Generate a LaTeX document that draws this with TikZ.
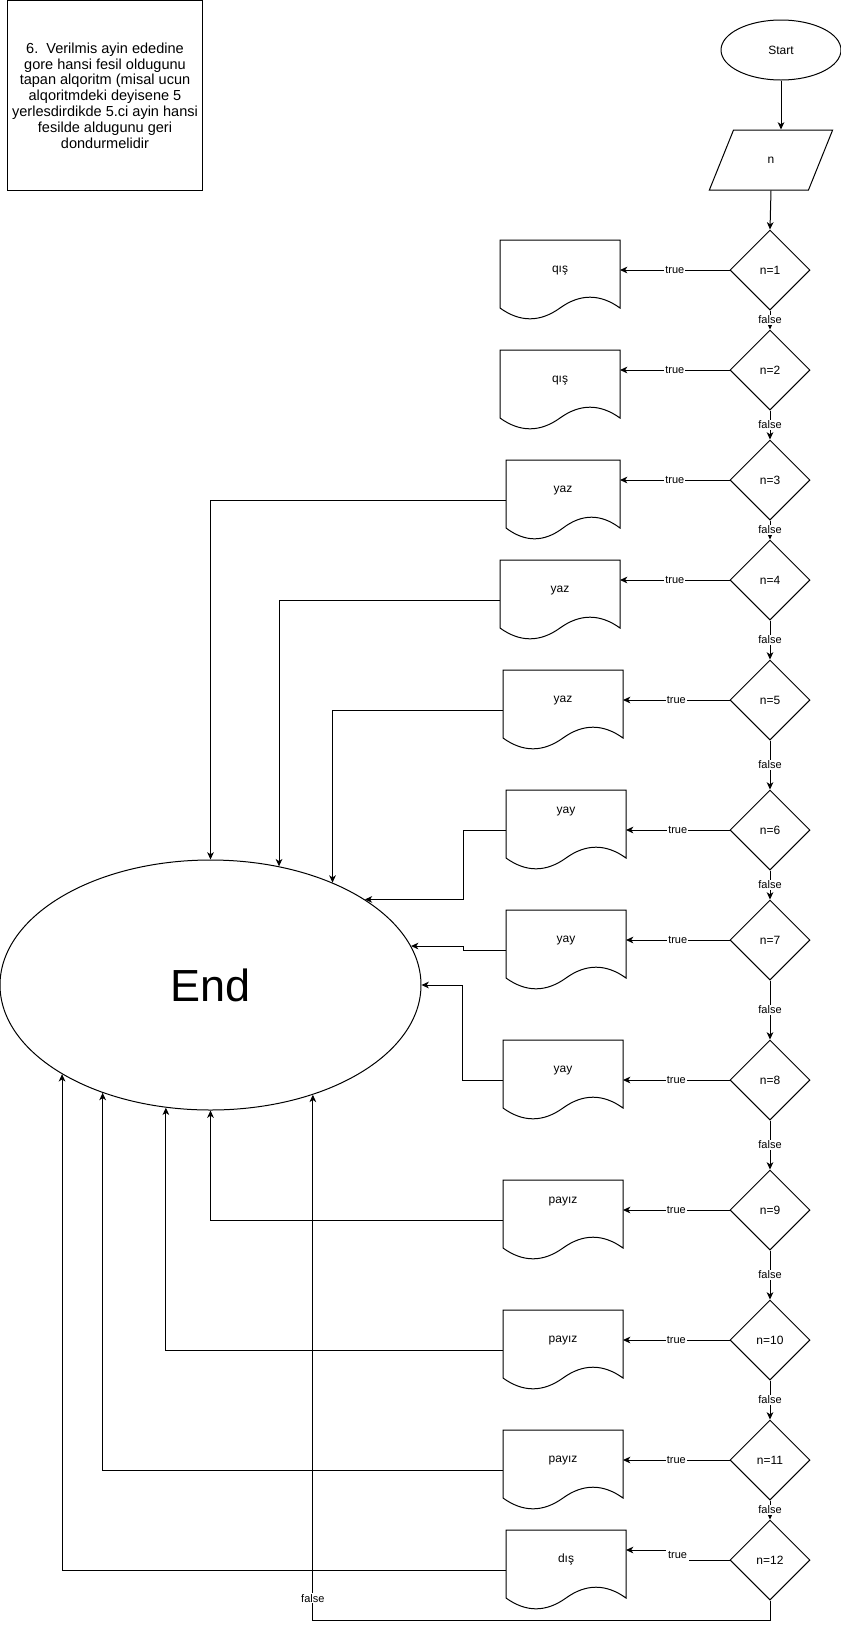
\documentclass[tikz,border=0pt]{standalone}
\usepackage{fontspec}
\setmainfont{Liberation Sans}
\usetikzlibrary{shapes.geometric,arrows.meta,calc}

\tikzset{every picture/.style={line width=0.75pt}}
\tikzset{
  arr/.style={-{Stealth[length=5.5pt,width=5pt,inset=1.6pt]}},
  lbl/.style={fill=white,inner sep=0.75pt,font=\fontsize{8.25}{9}\selectfont},
  decision/.style={draw,diamond,minimum width=60pt,minimum height=60pt,inner sep=0pt,font=\fontsize{9}{10}\selectfont},
  docbox/.style={minimum width=90pt,minimum height=60pt,inner sep=0pt,outer sep=0pt,text height=7pt,text depth=18.5pt,font=\fontsize{9}{10}\selectfont},
  docboxhi/.style={docbox,text depth=32pt},
}
% document outline on a docbox node: name, width
\newcommand{\docline}[2]{%
  \draw (#1.north west) -- (#1.north east) -- ++(0,68)
    .. controls +({-#2/6},-14.4) and +({#2/6},-14.4) .. ++({-#2/2},0)
    .. controls +({-#2/6},14.4) and +({#2/6},14.4) .. ++({-#2/2},0) -- cycle;}

\begin{document}
\begin{tikzpicture}[x=0.75pt,y=0.75pt,yscale=-1,xscale=1]
\useasboundingbox (0,0) rectangle (841,1629);

% Text Node
\draw (105,95.5) node [draw,minimum width=142.5pt,minimum height=142.5pt,align=center,font=\fontsize{10.9}{11.85}\selectfont] (task) {6.\ \ Verilmis ayin ededine\\gore hansi fesil oldugunu\\tapan alqoritm (misal ucun\\alqoritmdeki deyisene 5\\yerlesdirdikde 5.ci ayin hansi\\fesilde aldugunu geri\\dondurmelidir};

%Shape: Ellipse
\draw (781,50) node [draw,ellipse,minimum width=90pt,minimum height=45pt,inner sep=0pt,font=\fontsize{9}{10}\selectfont] (start) {Start};
%Shape: Parallelogram
\draw (771,160) node [draw,trapezium,trapezium left angle=71.57,trapezium right angle=108.43,trapezium stretches=true,minimum width=92.5pt,minimum height=45pt,inner sep=0pt,font=\fontsize{9}{10}\selectfont] (in) {n};
%Shape: Ellipse
\draw (210.5,985) node [draw,ellipse,minimum width=315.75pt,minimum height=187.5pt,inner sep=0pt,font=\fontsize{33.75}{36}\selectfont] (endn) {End};

%Shape: Diamond
\draw (770,270) node [decision] (n1) {n=1};
\draw (770,370) node [decision] (n2) {n=2};
\draw (770,480) node [decision] (n3) {n=3};
\draw (770,580) node [decision] (n4) {n=4};
\draw (770,700) node [decision] (n5) {n=5};
\draw (770,830) node [decision] (n6) {n=6};
\draw (770,940) node [decision] (n7) {n=7};
\draw (770,1080) node [decision] (n8) {n=8};
\draw (770,1210) node [decision] (n9) {n=9};
\draw (770,1340) node [decision] (n10) {n=10};
\draw (770,1460) node [decision] (n11) {n=11};
\draw (770,1560) node [decision] (n12) {n=12};

%Shape: Document
\draw (560,280) node [docbox] (d1) {qış};
\draw (560,390) node [docbox] (d2) {qış};
\draw (563,500) node [docbox,minimum width=85.5pt] (d3) {yaz};
\draw (560,600) node [docbox] (d4) {yaz};
\draw (563,710) node [docbox] (d5) {yaz};
\draw (566,830) node [docboxhi] (d6) {yay};
\draw (566,950) node [docbox] (d7) {yay};
\draw (563,1080) node [docbox] (d8) {yay};
\draw (563,1220) node [docboxhi] (d9) {payız};
\draw (563,1350) node [docbox] (d10) {payız};
\draw (563,1470) node [docbox] (d11) {payız};
\draw (566,1570) node [docbox] (d12) {dış};
\docline{d1}{120} \docline{d2}{120} \docline{d3}{114} \docline{d4}{120}
\docline{d5}{120} \docline{d6}{120} \docline{d7}{120} \docline{d8}{120}
\docline{d9}{120} \docline{d10}{120} \docline{d11}{120} \docline{d12}{120}

%Straight Lines
\draw [arr] (start.south) -- (start.south |- in.north);
\draw [arr] (in.south) -- (n1.north);
\draw [arr] (n1.south) -- (n2.north) node [lbl,midway] {false};
\draw [arr] (n2.south) -- (n3.north) node [lbl,midway] {false};
\draw [arr] (n3.south) -- (n4.north) node [lbl,midway] {false};
\draw [arr] (n4.south) -- (n5.north) node [lbl,midway] {false};
\draw [arr] (n5.south) -- (n6.north) node [lbl,midway] {false};
\draw [arr] (n6.south) -- (n7.north) node [lbl,midway] {false};
\draw [arr] (n7.south) -- (n8.north) node [lbl,midway] {false};
\draw [arr] (n8.south) -- (n9.north) node [lbl,midway] {false};
\draw [arr] (n9.south) -- (n10.north) node [lbl,midway] {false};
\draw [arr] (n10.south) -- (n11.north) node [lbl,midway] {false};
\draw [arr] (n11.south) -- (n12.north) node [lbl,midway] {false};

%Straight Lines
\draw [arr] (n1.west) -- (n1.west -| d1.east) node [lbl,midway] {true};
\draw [arr] (n2.west) -- (n2.west -| d2.east) node [lbl,midway] {true};
\draw [arr] (n3.west) -- (n3.west -| d3.east) node [lbl,midway] {true};
\draw [arr] (n4.west) -- (n4.west -| d4.east) node [lbl,midway] {true};
\draw [arr] (n5.west) -- (n5.west -| d5.east) node [lbl,midway] {true};
\draw [arr] (n6.west) -- (n6.west -| d6.east) node [lbl,midway] {true};
\draw [arr] (n7.west) -- (n7.west -| d7.east) node [lbl,midway] {true};
\draw [arr] (n8.west) -- (n8.west -| d8.east) node [lbl,midway] {true};
\draw [arr] (n9.west) -- (n9.west -| d9.east) node [lbl,midway] {true};
\draw [arr] (n10.west) -- (n10.west -| d10.east) node [lbl,midway] {true};
\draw [arr] (n11.west) -- (n11.west -| d11.east) node [lbl,midway] {true};
\draw [arr] (n12.west) -- ++(-42,0) |- ($(d12.north east)!0.25!(d12.south east)$) node [lbl,inner sep=1.5pt] at ($(n12.west)+(-52,-5)$) {true};

%Connectors to End
\draw [arr] (d3.west) -| (endn.north);
\draw [arr] (d4.west) -| (endn.60);
\draw [arr] (d5.west) -| (endn.40);
\draw [arr] (d6.west) -- ++(-43,0) |- (endn.29);
\draw [arr] (d7.west) -- ++(-43,0) |- (endn.11);
\draw [arr] (d8.west) -- ++(-41,0) |- (endn.east);
\draw [arr] (d9.west) -| (endn.south);
\draw [arr] (d10.west) -| (endn.250);
\draw [arr] (d11.west) -| (endn.225);
\draw [arr] (d12.west) -| (endn.211);
\draw [arr] (n12.south) -- ++(0,20) -| (endn.313) node [lbl,pos=0.521] {false};

\end{tikzpicture}
\end{document}
